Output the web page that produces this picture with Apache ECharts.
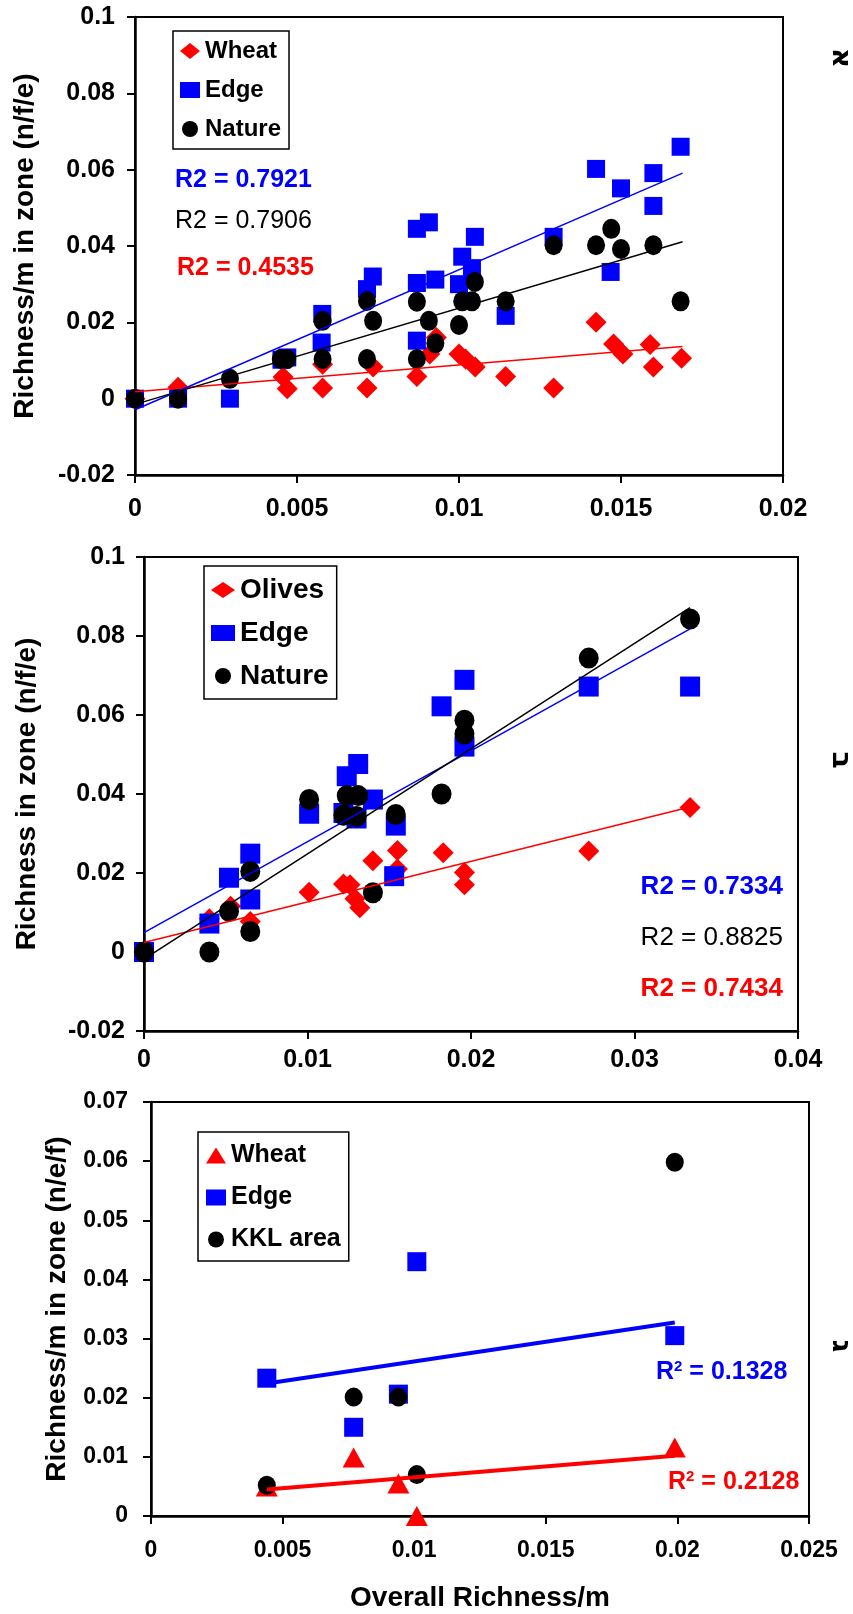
<!DOCTYPE html>
<html><head><meta charset="utf-8">
<script src="https://cdn.jsdelivr.net/npm/echarts@6/dist/echarts.min.js"></script>
<style>html,body{margin:0;padding:0;background:#fff}#c{width:853px;height:1614px}</style>
</head><body><div id="c"></div>
<script>
// ---------- Panel A (top) ----------
const aWheatX = [0, 0.00133, 0.00457, 0.0047, 0.00579, 0.00579, 0.00716, 0.00735, 0.0087, 0.0091, 0.0093, 0.0100, 0.0102, 0.0105, 0.01144, 0.01292, 0.01423, 0.01477, 0.01506, 0.0159, 0.0160, 0.01687];
const aWheatY = [0, 0.0030, 0.0057, 0.0026, 0.0090, 0.0028, 0.0028, 0.0083, 0.0058, 0.0117, 0.0160, 0.0117, 0.0104, 0.0083, 0.0058, 0.0028, 0.0200, 0.0143, 0.0117, 0.0142, 0.0083, 0.0106];
const aEdgeX = [0, 0.00133, 0.00293, 0.00452, 0.0047, 0.00578, 0.00576, 0.00716, 0.00734, 0.0087, 0.0087, 0.0087, 0.00907, 0.00927, 0.0100, 0.0101, 0.0104, 0.01049, 0.01144, 0.01292, 0.01423, 0.01468, 0.0150, 0.0160, 0.0160, 0.01684];
const aEdgeY = [0, 0, 0, 0.0102, 0.0108, 0.0222, 0.0147, 0.0287, 0.0320, 0.0445, 0.0303, 0.0152, 0.0462, 0.0312, 0.0300, 0.0372, 0.0342, 0.0424, 0.0217, 0.0424, 0.0602, 0.0332, 0.0551, 0.0591, 0.0505, 0.0660];
const aNatureX = [0, 0.00133, 0.00293, 0.0045, 0.0047, 0.00579, 0.00579, 0.00716, 0.00716, 0.00735, 0.0087, 0.0087, 0.00907, 0.00927, 0.0100, 0.0101, 0.0104, 0.01049, 0.01144, 0.01292, 0.01423, 0.0147, 0.0150, 0.0160, 0.01684];
const aNatureY = [0, 0, 0.0052, 0.0104, 0.0104, 0.0204, 0.0104, 0.0256, 0.0104, 0.0204, 0.0254, 0.0104, 0.0204, 0.0145, 0.0193, 0.0255, 0.0255, 0.0306, 0.0255, 0.0402, 0.0402, 0.0445, 0.0392, 0.0402, 0.0255];
const aTrendX = [0, 0.0169];
const aTrendEdge = [-0.0029, 0.0591];
const aTrendNature = [-0.0015, 0.0411];
const aTrendWheat = [0.0018, 0.0137];
const aR2 = ['R2 = 0.7921', 'R2 = 0.7906', 'R2 = 0.4535'];

// ---------- Panel B (middle) ----------
const bOlivesX = [0, 0.0040, 0.0053, 0.0065, 0.0101, 0.0122, 0.0126, 0.0129, 0.0132, 0.0140, 0.0155, 0.0155, 0.0183, 0.0196, 0.0196, 0.0272, 0.0334];
const bOlivesY = [0, 0.0084, 0.0116, 0.0077, 0.0151, 0.0172, 0.0170, 0.0135, 0.0112, 0.0231, 0.0257, 0.0210, 0.0251, 0.0201, 0.0170, 0.0256, 0.0366];
const bEdgeX = [0, 0.0040, 0.0052, 0.0065, 0.0065, 0.0101, 0.0122, 0.0124, 0.0131, 0.0130, 0.0140, 0.0154, 0.0153, 0.0182, 0.0196, 0.0196, 0.0272, 0.0334];
const bEdgeY = [0, 0.0072, 0.0188, 0.0249, 0.0133, 0.0350, 0.0352, 0.0445, 0.0476, 0.0338, 0.0386, 0.0320, 0.0192, 0.0622, 0.0689, 0.0520, 0.0672, 0.0672];
const bNatureX = [0, 0.0040, 0.0052, 0.0065, 0.0065, 0.0101, 0.0122, 0.0124, 0.0131, 0.0130, 0.0140, 0.0154, 0.0182, 0.0196, 0.0196, 0.0272, 0.0334];
const bNatureY = [0, 0, 0.0103, 0.0204, 0.0052, 0.0386, 0.0346, 0.0396, 0.0396, 0.0343, 0.0150, 0.0348, 0.0400, 0.0587, 0.0552, 0.0744, 0.0843];
const bTrendX = [0, 0.0334];
const bTrendEdge = [0.0049, 0.0818];
const bTrendNature = [-0.0018, 0.0872];
const bTrendOlives = [0.0024, 0.0367];
const bR2 = ['R2 = 0.7334', 'R2 = 0.8825', 'R2 = 0.7434'];

// ---------- Panel C (bottom) ----------
const cX = [0.0044, 0.0077, 0.0094, 0.0101, 0.0199];
const cWheatY = [0.0050, 0.0099, 0.0055, 0.0000, 0.0116];
const cEdgeY = [0.0233, 0.0150, 0.0206, 0.0430, 0.0305];
const cKKLY = [0.0052, 0.0201, 0.0201, 0.0070, 0.0598];
const cTrendX = [0.0044, 0.0199];
const cTrendEdge = [0.0224, 0.0327];
const cTrendWheat = [0.0045, 0.0102];
const cR2 = ['0.1328', '0.2128'];

const panelLetters = ['א', 'ב', 'ג'];

// ---------- build ----------
const FONT = '"Liberation Sans", Arial, sans-serif';
const RED = '#ff0000', BLUE = '#0000ff', BLACK = '#000000';
const zip = (xs, ys) => xs.map((x, i) => [x, ys[i]]);

function xAx(gi, max, interval, fs, margin, extra) {
  return Object.assign({
    gridIndex: gi, type: 'value', min: 0, max: max, interval: interval,
    axisLine: {show: true, onZero: false, lineStyle: {color: '#000', width: 2.5}},
    axisTick: {show: true, inside: false, length: 8, lineStyle: {color: '#000', width: 2}},
    axisLabel: {color: '#000', fontSize: fs, fontWeight: 'bold', fontFamily: FONT, margin: margin},
    splitLine: {show: false}
  }, extra || {});
}
function yAx(gi, min, max, interval, fs, margin, name, gap) {
  return {
    gridIndex: gi, type: 'value', min: min, max: max, interval: interval,
    name: name, nameLocation: 'middle', nameGap: gap, nameRotate: 90,
    nameTextStyle: {color: '#000', fontSize: 28, fontWeight: 'bold', fontFamily: FONT},
    axisLine: {show: true, onZero: false, lineStyle: {color: '#000', width: 2.5}},
    axisTick: {show: true, inside: false, length: 8, lineStyle: {color: '#000', width: 2}},
    axisLabel: {color: '#000', fontSize: fs, fontWeight: 'bold', fontFamily: FONT, margin: margin},
    splitLine: {show: false}
  };
}
function scat(name, gi, xs, ys, symbol, size, color) {
  return {name: name, type: 'scatter', xAxisIndex: gi, yAxisIndex: gi, data: zip(xs, ys),
    symbol: symbol, symbolSize: size, itemStyle: {color: color, opacity: 1}, z: 2, silent: true};
}
function trend(gi, xs, ys, color, w) {
  return {type: 'line', xAxisIndex: gi, yAxisIndex: gi, data: zip(xs, ys), showSymbol: false,
    symbol: 'none', lineStyle: {color: color, width: w}, z: 3, silent: true};
}
function legendBox(left, top, items, fs, gap, pad, iw) {
  return {
    left: left, top: top, orient: 'vertical', selectedMode: false,
    data: items, itemWidth: iw, itemHeight: 16, itemGap: gap, symbolKeepAspect: true,
    textStyle: {fontSize: fs, fontWeight: 'bold', color: '#000', fontFamily: FONT, lineHeight: fs},
    borderColor: '#000', borderWidth: 1.5, padding: pad, backgroundColor: '#fff'
  };
}
function txt(x, y, s, color, fs, weight, align) {
  return {type: 'text', x: x, y: y, z: 10, style: {text: s, fill: color,
    font: (weight || 'bold') + ' ' + fs + 'px ' + FONT, align: align || 'left', verticalAlign: 'middle'}};
}
function supTxt(x, y, val, color) {
  return {type: 'text', x: x, y: y, z: 10, style: {
    text: 'R{s|2} = ' + val, fill: color, align: 'left', verticalAlign: 'middle',
    fontSize: 25, fontWeight: 'bold', fontFamily: FONT,
    rich: {s: {fontSize: 15, fontWeight: 'bold', fontFamily: FONT, fill: color, verticalAlign: 'top', lineHeight: 25}}
  }};
}
function letter(x, y, s) {
  return {type: 'text', x: x, y: y, rotation: -Math.PI / 2, z: 10,
    style: {text: s, fill: '#000', fontSize: 28, fontWeight: 'bold', fontFamily: '"DejaVu Sans", "Liberation Sans", sans-serif',
      align: 'center', verticalAlign: 'middle'}};
}

const option = {
  animation: false,
  backgroundColor: '#fff',
  grid: [
    {left: 135, top: 17, width: 648, height: 458, show: true, borderColor: '#000', borderWidth: 2},
    {left: 144, top: 557, width: 654, height: 474, show: true, borderColor: '#000', borderWidth: 2},
    {left: 151, top: 1102, width: 658, height: 414, show: true, borderColor: '#000', borderWidth: 2}
  ],
  xAxis: [
    xAx(0, 0.02, 0.005, 25, 22),
    xAx(1, 0.04, 0.01, 25, 17),
    xAx(2, 0.025, 0.005, 23, 23, {name: 'Overall Richness/m', nameLocation: 'middle', nameGap: 68,
      nameTextStyle: {color: '#000', fontSize: 28, fontWeight: 'bold', fontFamily: FONT}})
  ],
  yAxis: [
    yAx(0, -0.02, 0.1, 0.02, 25, 20, 'Richness/m in zone (n/f/e)', 96),
    yAx(1, -0.02, 0.1, 0.02, 25, 19, 'Richness in zone (n/f/e)', 103),
    yAx(2, 0, 0.07, 0.01, 23, 23, 'Richness/m in zone (n/e/f)', 80)
  ],
  legend: [
    legendBox(173, 31, [{name: 'Wheat', icon: 'diamond'}, {name: 'Edge', icon: 'rect'}, {name: 'Nature', icon: 'circle'}], 24, 15, [8, 8, 8, 7], 20),
    legendBox(204, 566, [{name: 'Olives', icon: 'diamond'}, {name: 'Edge', icon: 'rect'}, {name: 'Nature', icon: 'circle'}], 28, 15, [10, 8, 9, 7], 24),
    legendBox(198, 1132, [{name: 'Wheat', icon: 'triangle'}, {name: 'Edge', icon: 'rect'}, {name: 'KKL area', icon: 'circle'}], 25, 17, [11, 8, 9, 8], 20)
  ],
  series: [
    scat('Wheat', 0, aWheatX, aWheatY, 'diamond', 21, RED),
    scat('Edge', 0, aEdgeX, aEdgeY, 'rect', 18, BLUE),
    scat('Nature', 0, aNatureX, aNatureY, 'circle', [18, 20], BLACK),
    trend(0, aTrendX, aTrendWheat, RED, 1.5),
    trend(0, aTrendX, aTrendEdge, BLUE, 1.5),
    trend(0, aTrendX, aTrendNature, BLACK, 1.5),

    scat('Olives', 1, bOlivesX, bOlivesY, 'diamond', 21, RED),
    scat('Edge', 1, bEdgeX, bEdgeY, 'rect', 20, BLUE),
    scat('Nature', 1, bNatureX, bNatureY, 'circle', [20, 21], BLACK),
    trend(1, bTrendX, bTrendOlives, RED, 1.5),
    trend(1, bTrendX, bTrendEdge, BLUE, 1.5),
    trend(1, bTrendX, bTrendNature, BLACK, 1.5),

    scat('Wheat', 2, cX, cWheatY, 'triangle', [22, 20], RED),
    scat('Edge', 2, cX, cEdgeY, 'rect', 19, BLUE),
    scat('KKL area', 2, cX, cKKLY, 'circle', [18, 19], BLACK),
    trend(2, cTrendX, cTrendEdge, BLUE, 4),
    trend(2, cTrendX, cTrendWheat, RED, 4)
  ],
  graphic: [
    txt(175, 180, aR2[0], BLUE, 25, 'bold'),
    txt(175, 221, aR2[1], BLACK, 25, 'normal'),
    txt(177, 268, aR2[2], RED, 25, 'bold'),
    txt(783, 887, bR2[0], BLUE, 26, 'bold', 'right'),
    txt(783, 938, bR2[1], BLACK, 26, 'normal', 'right'),
    txt(783, 989, bR2[2], RED, 26, 'bold', 'right'),
    supTxt(656, 1372, cR2[0], BLUE),
    supTxt(668, 1482, cR2[1], RED),
    letter(840, 58, panelLetters[0]),
    letter(840, 760, panelLetters[1]),
    letter(840, 1346, panelLetters[2])
  ]
};

const chart = echarts.init(document.getElementById('c'), null, {renderer: 'canvas', width: 853, height: 1614});
chart.setOption(option);
</script></body></html>
